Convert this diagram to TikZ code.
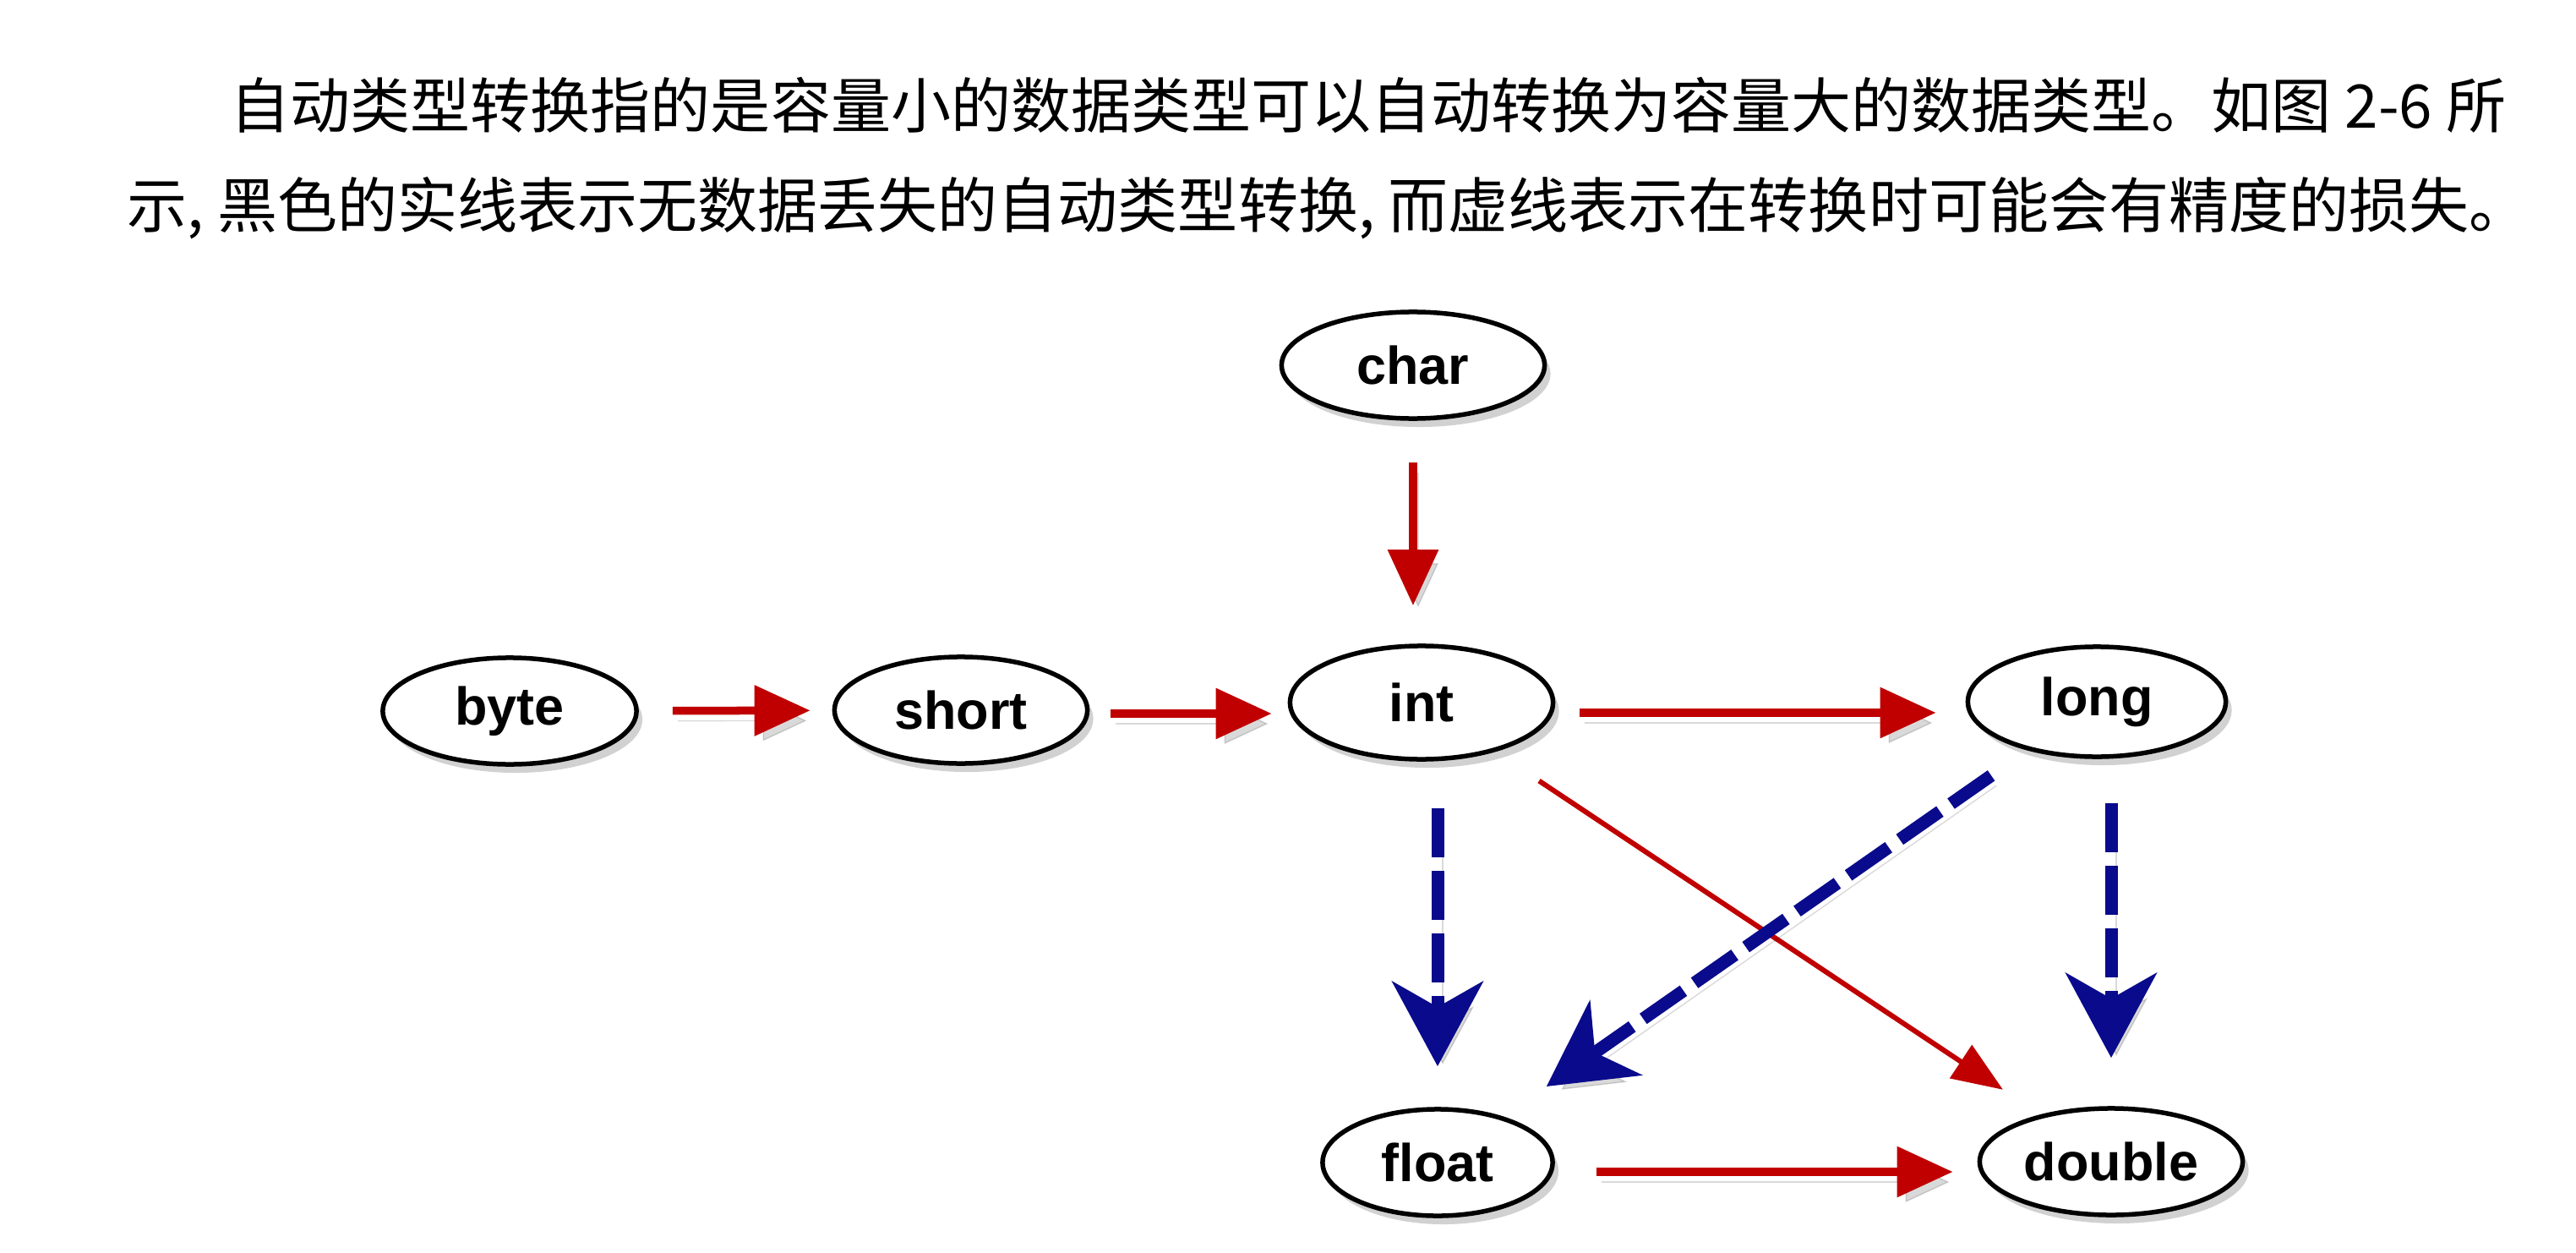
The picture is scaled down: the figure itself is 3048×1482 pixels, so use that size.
\documentclass[tikz,border=0pt]{standalone}
\usepackage{fontspec}
\setsansfont{Liberation Sans}
\newfontfamily\cjk{Noto Sans CJK SC}
\usetikzlibrary{arrows.meta,shapes.geometric,shadows}
\definecolor{myred}{RGB}{192,0,0}
\definecolor{myblue}{RGB}{10,10,140}
\begin{document}
\begin{tikzpicture}[x=0.01cm,y=-0.01cm,
  tnode/.style={ellipse, draw=black, line width=0.055cm, fill=white, inner sep=0pt,
    font=\sffamily\bfseries\fontsize{17.9pt}{20pt}\selectfont,
    drop shadow={shadow xshift=0.07cm, shadow yshift=-0.10cm, opacity=0.18, fill=black}},
  cjktext/.style={anchor=base west, inner sep=0pt, font=\cjk\fontsize{20.2pt}{24pt}\selectfont},
  ashadow/.style={preaction={draw=black, draw opacity=0.15, fill opacity=0.15,
    transform canvas={shift={(0.06cm,-0.12cm)}}}},
  redarr/.style={ashadow, draw=myred, line width=0.095cm, -{Triangle[length=0.66cm, width=0.58cm]}},
  thinred/.style={draw=myred, line width=0.06cm, -{Triangle[length=0.60cm, width=0.46cm]}},
  bluearr/.style={ashadow, draw=myblue, line width=0.15cm, dash pattern=on 0.58cm off 0.16cm,
    -{Stealth[length=1.00cm, width=1.07cm, inset=0.30cm]}}
]
\path[use as bounding box] (0,0) rectangle (3048,1482);

\node[cjktext] (l1) at (272,152) {自动类型转换指的是容量小的数据类型可以自动转换为容量大的数据类型。如图 2-6 所};
\node[cjktext] (l2) at (150,269) {示, 黑色的实线表示无数据丢失的自动类型转换, 而虚线表示在转换时可能会有精度的损失。};

\node[tnode, minimum width=3.11cm, minimum height=1.26cm] (char) at (1672,432) {char};
\node[tnode, minimum width=3.00cm, minimum height=1.26cm] (byte) at (603,841) {byte};
\node[tnode, minimum width=2.99cm, minimum height=1.26cm] (short) at (1137,840) {short};
\node[tnode, minimum width=3.11cm, minimum height=1.34cm] (int) at (1682,831) {int};
\node[tnode, minimum width=3.05cm, minimum height=1.30cm] (long) at (2481,830) {long};
\node[tnode, minimum width=2.72cm, minimum height=1.26cm] (float) at (1701,1375) {float};
\node[tnode, minimum width=3.11cm, minimum height=1.26cm] (double) at (2498,1374) {double};

\draw[redarr, shorten <=0.40cm, shorten >=0.26cm] (byte) -- (short);
\draw[redarr, shorten <=0.25cm, shorten >=0.19cm] ([yshift=-0.04cm]short.east) -- ([yshift=-0.04cm]short.east -| int.west);
\draw[redarr, shorten <=0.49cm, shorten >=0.45cm] (char.south) -- (char.south |- int.north);
\draw[redarr, shorten <=0.29cm, shorten >=0.35cm] ([yshift=-0.12cm]int.east) -- ([yshift=-0.12cm]int.east -| long.west);
\draw[thinred, shorten <=0.62cm, shorten >=0.53cm] (int) -- (double);
\draw[redarr, shorten <=0.49cm, shorten >=0.29cm] ([yshift=-0.11cm]float.east) -- ([yshift=-0.11cm]float.east -| double.west);

\draw[bluearr, shorten <=0.55cm, shorten >=0.48cm] (float.north |- int.south) -- (float.north);
\draw[bluearr, shorten <=0.52cm, shorten >=0.57cm] (double.north |- long.south) -- (double.north);
\draw[bluearr, shorten <=0.52cm, shorten >=0.62cm] (long) -- (float);
\end{tikzpicture}
\end{document}
